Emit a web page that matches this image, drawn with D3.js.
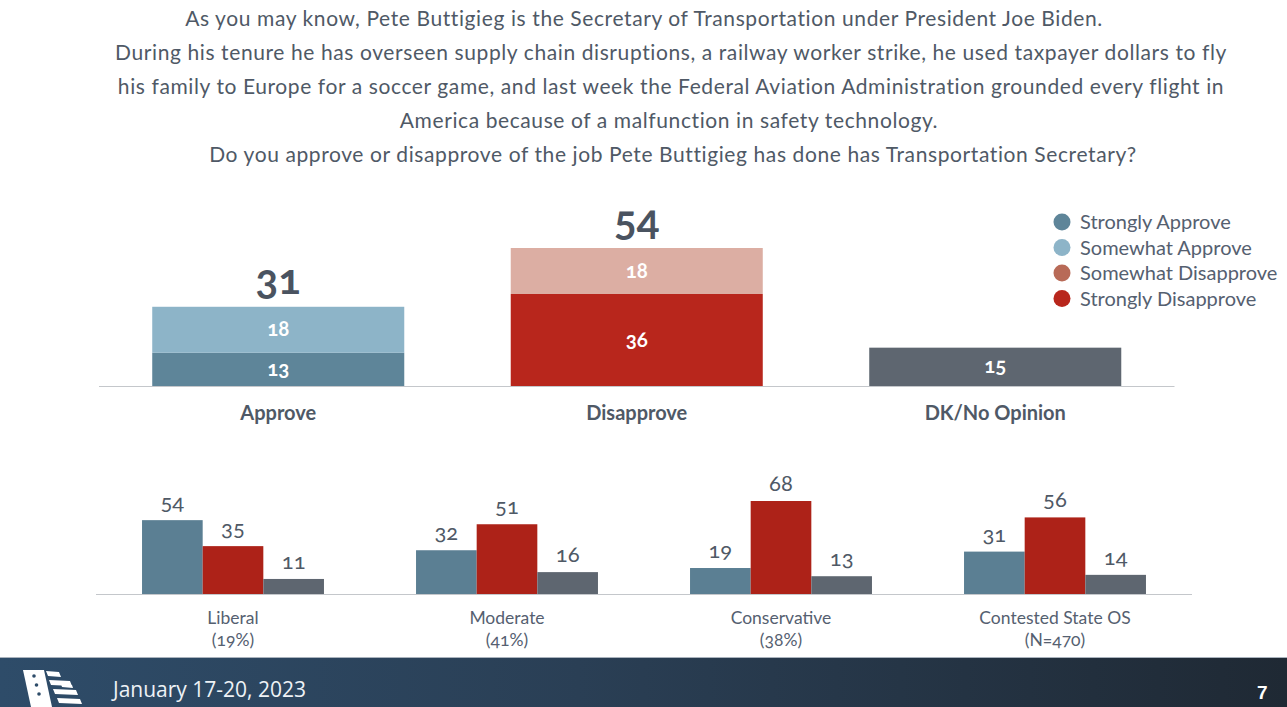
<!DOCTYPE html>
<html>
<head>
<meta charset="utf-8">
<script src="https://cdn.jsdelivr.net/npm/d3@7"></script>
<style>
  html, body { margin: 0; padding: 0; background: #ffffff; }
  svg { display: block; }
  text { font-family: Lato, "Open Sans", sans-serif; font-variant-numeric: oldstyle-nums; }
</style>
</head>
<body>
<svg id="chart" width="1287" height="707"></svg>
<script>
// ---------------- DATA ----------------
const titleLines = [
  "As you may know, Pete Buttigieg is the Secretary of Transportation under President Joe Biden.",
  "During his tenure he has overseen supply chain disruptions, a railway worker strike, he used taxpayer dollars to fly",
  "his family to Europe for a soccer game, and last week the Federal Aviation Administration grounded every flight in",
  "America because of a malfunction in safety technology.",
  "Do you approve or disapprove of the job Pete Buttigieg has done has Transportation Secretary?"
];
const topCategories = ["Approve", "Disapprove", "DK/No Opinion"];
const strongValues   = [13, 36, 15];   // strongly approve / strongly disapprove / DK
const somewhatValues = [18, 18, 0];    // somewhat approve / somewhat disapprove
const topTotals      = [31, 54, null];
const legendLabels = ["Strongly Approve", "Somewhat Approve", "Somewhat Disapprove", "Strongly Disapprove"];

const groups      = ["Liberal", "Moderate", "Conservative", "Contested State OS"];
const groupSubs   = ["(19%)", "(41%)", "(38%)", "(N=470)"];
const seriesNames = ["Approve", "Disapprove", "DK/No Opinion"];
const approveByGroup    = [54, 32, 19, 31];
const disapproveByGroup = [35, 51, 68, 56];
const dkByGroup         = [11, 16, 13, 14];
const footerDate = "January 17-20, 2023";
const pageNumber = "7";

// ---------------- STYLE ----------------
const textColor = "#4f5966";
const cStrongApp = "#5e8599", cSomeApp = "#8db4c8", cSomeDis = "#dcaea3", cStrongDis = "#b8261c", cDK = "#5e6670";
const legendColors = ["#5e8599", "#8db4c8", "#b86a57", "#b8261c"];
const smallColors = ["#5b7f93", "#ad2218", "#5e6670"];

const svg = d3.select("#chart");

// ---------------- TITLE ----------------
const titleX = [644, 671, 671, 669, 673];
svg.append("g").selectAll("text").data(titleLines).join("text")
  .attr("x", (d, i) => titleX[i])
  .attr("y", (d, i) => 26 + i * 34)
  .attr("text-anchor", "middle")
  .attr("font-size", 21)
  .attr("letter-spacing", 0.6)
  .attr("fill", textColor)
  .text(d => d);

// ---------------- TOP CHART ----------------
const xTop = d3.scaleBand().domain(topCategories).range([99, 1174.5]).paddingInner(0.297).paddingOuter(0.1485);
const yTop = d3.scaleLinear().domain([0, 54]).range([386, 248]);
const gTop = svg.append("g");

const topData = topCategories.map((c, i) => ({ cat: c, strong: strongValues[i], some: somewhatValues[i], total: topTotals[i], i }));
const strongCol = [cStrongApp, cStrongDis, cDK];
const someCol = [cSomeApp, cSomeDis, cDK];

gTop.append("line").attr("x1", xTop.range()[0]).attr("x2", xTop.range()[1])
  .attr("y1", yTop(0) + 0.5).attr("y2", yTop(0) + 0.5)
  .attr("stroke", "#c4c7cb").attr("stroke-width", 1.2);

gTop.selectAll("rect.strong").data(topData).join("rect").attr("class", "strong")
  .attr("x", d => xTop(d.cat)).attr("width", xTop.bandwidth())
  .attr("y", d => yTop(d.strong)).attr("height", d => yTop(0) - yTop(d.strong))
  .attr("fill", d => strongCol[d.i]);
gTop.selectAll("rect.some").data(topData.filter(d => d.some > 0)).join("rect").attr("class", "some")
  .attr("x", d => xTop(d.cat)).attr("width", xTop.bandwidth())
  .attr("y", d => yTop(d.strong + d.some)).attr("height", d => yTop(d.strong) - yTop(d.strong + d.some))
  .attr("fill", d => someCol[d.i]);

gTop.selectAll("text.strongLbl").data(topData).join("text").attr("class", "strongLbl")
  .attr("x", d => xTop(d.cat) + xTop.bandwidth() / 2)
  .attr("y", d => (yTop(0) + yTop(d.strong)) / 2 + 6.5)
  .attr("text-anchor", "middle").attr("font-size", 20.5).attr("font-weight", 700).attr("fill", "#ffffff")
  .text(d => d.strong);
gTop.selectAll("text.someLbl").data(topData.filter(d => d.some > 0)).join("text").attr("class", "someLbl")
  .attr("x", d => xTop(d.cat) + xTop.bandwidth() / 2)
  .attr("y", d => (yTop(d.strong) + yTop(d.strong + d.some)) / 2 + 6.5)
  .attr("text-anchor", "middle").attr("font-size", 20.5).attr("font-weight", 700).attr("fill", "#ffffff")
  .text(d => d.some);
gTop.selectAll("text.total").data(topData.filter(d => d.total != null)).join("text").attr("class", "total")
  .attr("x", d => xTop(d.cat) + xTop.bandwidth() / 2)
  .attr("y", d => yTop(d.total) - 13)
  .attr("text-anchor", "middle").attr("font-size", 42).attr("font-weight", 700).attr("fill", "#4a5360")
  .text(d => d.total);
gTop.selectAll("text.cat").data(topCategories).join("text").attr("class", "cat")
  .attr("x", d => xTop(d) + xTop.bandwidth() / 2)
  .attr("y", 420)
  .attr("text-anchor", "middle").attr("font-size", 20).attr("font-weight", 700).attr("fill", textColor)
  .text(d => d);

const legend = svg.append("g");
legendLabels.forEach((l, i) => {
  legend.append("circle").attr("cx", 1062).attr("cy", 222 + i * 25.5).attr("r", 8.5).attr("fill", legendColors[i]);
  legend.append("text").attr("x", 1080).attr("y", 229 + i * 25.5).attr("font-size", 20).attr("fill", "#556070").text(l);
});

// ---------------- BOTTOM CHART ----------------
const xG = d3.scaleBand().domain(groups).range([96, 1192]).paddingInner(0.336).paddingOuter(0.168);
const xS = d3.scaleBand().domain(seriesNames).range([0, xG.bandwidth()]);
const yB = d3.scaleLinear().domain([0, 68]).range([594, 501]);
const gBottom = svg.append("g");

gBottom.append("line").attr("x1", xG.range()[0]).attr("x2", xG.range()[1])
  .attr("y1", yB(0) + 0.5).attr("y2", yB(0) + 0.5)
  .attr("stroke", "#c4c7cb").attr("stroke-width", 1.2);

const gData = groups.map((g, i) => ({ g, sub: groupSubs[i], vals: [approveByGroup[i], disapproveByGroup[i], dkByGroup[i]] }));
const gg = gBottom.selectAll("g.grp").data(gData).join("g").attr("class", "grp")
  .attr("transform", d => `translate(${xG(d.g)},0)`);
gg.selectAll("rect").data(d => d.vals.map((v, j) => ({ v, s: seriesNames[j], j }))).join("rect")
  .attr("x", d => xS(d.s)).attr("width", xS.bandwidth())
  .attr("y", d => yB(d.v)).attr("height", d => yB(0) - yB(d.v))
  .attr("fill", d => smallColors[d.j]);
gg.selectAll("text.val").data(d => d.vals.map((v, j) => ({ v, s: seriesNames[j], j }))).join("text").attr("class", "val")
  .attr("x", d => xS(d.s) + xS.bandwidth() / 2)
  .attr("y", d => yB(d.v) - 10)
  .attr("text-anchor", "middle").attr("font-size", 22).attr("fill", textColor)
  .text(d => d.v);
gg.append("text").attr("x", xG.bandwidth() / 2).attr("y", 624)
  .attr("text-anchor", "middle").attr("font-size", 17.5).attr("fill", "#556070").text(d => d.g);
gg.append("text").attr("x", xG.bandwidth() / 2).attr("y", 646)
  .attr("text-anchor", "middle").attr("font-size", 17.5).attr("fill", "#556070").text(d => d.sub);

// ---------------- FOOTER ----------------
const defs = svg.append("defs");
const grad = defs.append("linearGradient").attr("id", "foot").attr("x1", "0").attr("x2", "1").attr("y1", "0").attr("y2", "0");
grad.append("stop").attr("offset", "0").attr("stop-color", "#2e4c69");
grad.append("stop").attr("offset", "0.45").attr("stop-color", "#2a3f55");
grad.append("stop").attr("offset", "1").attr("stop-color", "#1f2934");
svg.append("rect").attr("x", 0).attr("y", 657).attr("width", 1287).attr("height", 50).attr("fill", "url(#foot)");
svg.append("line").attr("x1", 0).attr("x2", 1287).attr("y1", 657.5).attr("y2", 657.5).attr("stroke", "#aab3bd").attr("stroke-width", 1);

const logo = svg.append("g").attr("fill", "#ffffff");
logo.append("path").attr("d", "M23,670 L44,670 L52,707 L31,707 Z");
logo.append("path").attr("d", "M46,671 L59,672 L61,677 L48,676 Z");
logo.append("path").attr("d", "M49,680 L70,681 L72,686 L51,685 Z");
logo.append("path").attr("d", "M53,689 L76,690 L78,695 L55,694 Z");
logo.append("path").attr("d", "M57,698 L80,699 L82,704 L59,703 Z");
logo.append("path").attr("d", "M61,684 L72,685 L73,688 L62,687 Z");
logo.selectAll("circle").data([0, 1, 2]).join("circle")
  .attr("cx", (d, i) => 34 + i * 2.5).attr("cy", (d, i) => 676 + i * 9).attr("r", 1.8).attr("fill", "#2e4c69");

svg.append("text").attr("x", 113).attr("y", 697).attr("font-size", 21).attr("fill", "#eef2f6")
  .style("font-family", "'Open Sans', Lato, sans-serif").style("font-variant-numeric", "normal").text(footerDate);
svg.append("text").attr("x", 1257).attr("y", 699).attr("font-size", 19).attr("font-weight", 700).attr("fill", "#ffffff")
  .style("font-family", "'Liberation Sans', Arial, sans-serif").style("font-variant-numeric", "normal").text(pageNumber);
</script>
</body>
</html>
